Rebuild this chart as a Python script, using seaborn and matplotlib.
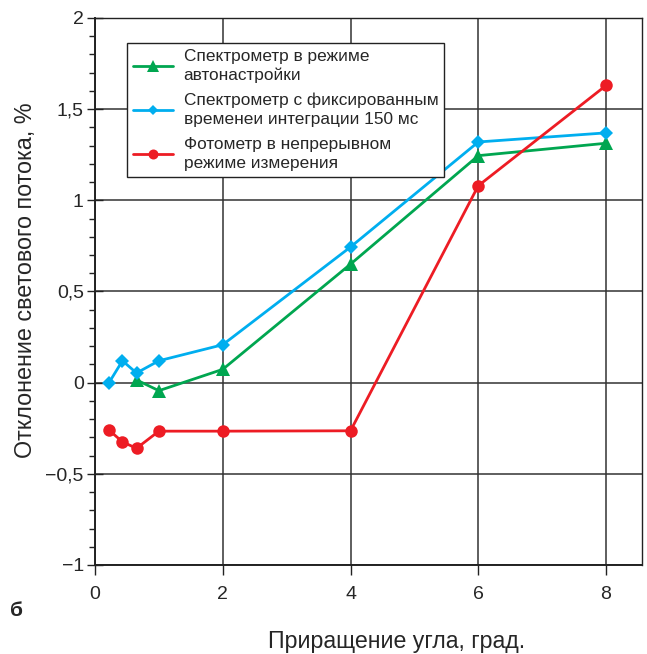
import matplotlib
matplotlib.use("Agg")
import matplotlib.pyplot as plt
import seaborn as sns
import pandas as pd
from matplotlib.ticker import MultipleLocator, FuncFormatter

sns.set_theme(style="white")
plt.rcParams['font.family'] = ['Liberation Sans', 'DejaVu Sans']

x_vals = [0.22, 0.43, 0.65, 1.0, 2.0, 4.0, 6.0, 8.0]
blue_y = [0.0, 0.12, 0.053, 0.12, 0.208, 0.744, 1.32, 1.37]
green_x = [0.65, 1.0, 2.0, 4.0, 6.0, 8.0]
green_y = [0.015, -0.044, 0.073, 0.65, 1.245, 1.313]
red_y = [-0.26, -0.325, -0.36, -0.266, -0.266, -0.264, 1.08, 1.63]

labels = ["Спектрометр в режиме\nавтонастройки",
          "Спектрометр с фиксированным\nвременеи интеграции 150 мс",
          "Фотометр в непрерывном\nрежиме измерения"]
colors = ["#00a650", "#00aeef", "#ed1c24"]

fig = plt.figure(figsize=(6.47, 6.54), dpi=100)
ax = fig.add_axes([0.1468, 0.1361, 0.8462, 0.8364])

df_g = pd.DataFrame({"x": green_x, "y": green_y})
df_b = pd.DataFrame({"x": x_vals, "y": blue_y})
df_r = pd.DataFrame({"x": x_vals, "y": red_y})

sns.lineplot(data=df_g, x="x", y="y", ax=ax, color=colors[0], marker="^",
             markersize=10, markeredgewidth=0, linewidth=2, sort=False,
             label=labels[0], zorder=4)
sns.lineplot(data=df_b, x="x", y="y", ax=ax, color=colors[1], marker="D",
             markersize=7, markeredgewidth=0, linewidth=2, sort=False,
             label=labels[1], zorder=4)
sns.lineplot(data=df_r, x="x", y="y", ax=ax, color=colors[2], marker="o",
             markersize=9, markeredgewidth=0, linewidth=2, sort=False,
             label=labels[2], zorder=4)

ax.set_xlim(0, 8.57)
ax.set_ylim(-1, 2)
ax.xaxis.set_major_locator(MultipleLocator(2))
ax.yaxis.set_major_locator(MultipleLocator(0.5))
ax.yaxis.set_minor_locator(MultipleLocator(0.1))

def fmt(v, pos):
    s = ("%g" % v).replace(".", ",")
    return s.replace("-", "\u2212")
ax.yaxis.set_major_formatter(FuncFormatter(fmt))

ax.grid(True, which="major", color="#333333", linewidth=1.1, zorder=1)
ax.set_axisbelow(True)
for sp in ax.spines.values():
    sp.set_color("#222222")
    sp.set_linewidth(1.0)
ax.spines['left'].set_linewidth(1.4)
ax.spines['bottom'].set_linewidth(1.4)

ax.tick_params(axis='y', which='major', direction='inout', length=12, width=1,
               color="#222222", labelsize=14, pad=2, left=True)
ax.tick_params(axis='y', which='minor', direction='out', length=4, width=1,
               color="#222222", left=True)
ax.tick_params(axis='x', which='major', direction='out', length=7, width=1,
               color="#222222", labelsize=14, pad=8, bottom=True)

ax.set_xlabel("Приращение угла, град.", fontsize=16.7)
ax.set_ylabel("Отклонение светового потока, %", fontsize=16.8)
ax.xaxis.set_label_coords(0.55, -0.118)
ax.yaxis.set_label_coords(-0.105, 0.521)

leg = ax.legend(loc="upper left", bbox_to_anchor=(0.058, 0.955), fontsize=12.4,
                frameon=True, fancybox=False, framealpha=1, edgecolor="#222222",
                handlelength=2.35, labelspacing=0.55, borderpad=0.35,
                handletextpad=0.6, markerscale=0.8, borderaxespad=0)
for t in leg.get_texts():
    t.set_linespacing(1.34)
leg.get_frame().set_linewidth(1.0)
leg.set_zorder(10)

fig.text(10 / 647, 1 - 610 / 654, "б", fontsize=15, fontweight="bold",
         ha="left", va="center")

fig.savefig("out.png", dpi=100)
